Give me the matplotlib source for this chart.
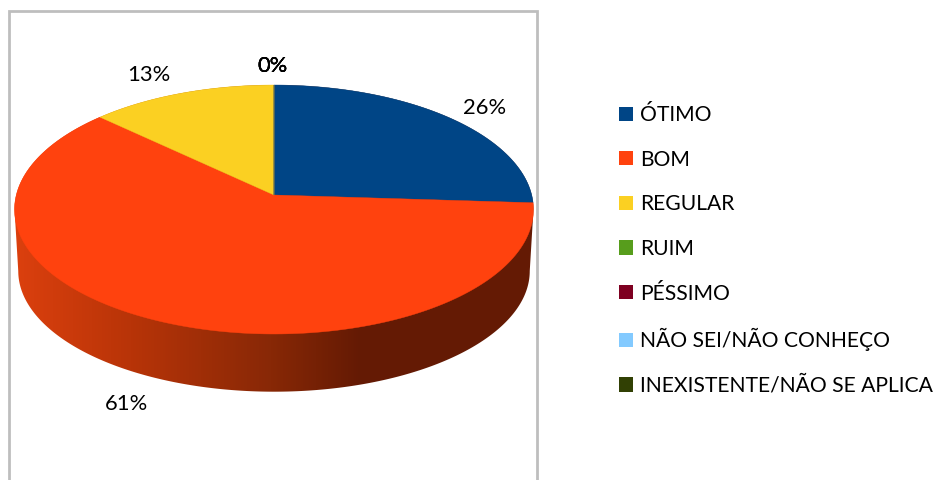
import numpy as np
import matplotlib
matplotlib.use("Agg")
import matplotlib.pyplot as plt
from matplotlib.patches import Patch, Polygon
from matplotlib.colors import to_rgb

plt.rcParams['font.family'] = ['Lato', 'DejaVu Sans']

categories = ["ÓTIMO", "BOM", "REGULAR", "RUIM", "PÉSSIMO",
              "NÃO SEI/NÃO CONHEÇO", "INEXISTENTE/NÃO SE APLICA"]
values = [26, 61, 13, 0, 0, 0, 0]
colors = ["#004586", "#FF420E", "#FBD022", "#579D1C", "#7E0021", "#83CAFF", "#314004"]

# pie is a disc seen in perspective, all in pixel coords of the picture
cx, cy = 274, 195
a, b, k = 257.7, 122.8, 0.1165
depth_a, depth_b, depth_y = 254.0, 119.0, 62


def disc(theta, a=a, b=b, y0=cy):
    # theta clockwise from the top
    u, v = np.sin(theta), np.cos(theta)
    w = 1 + k * v
    return cx + a * u / w, y0 - b * v / w


fig = plt.figure(figsize=(9.36, 4.8), dpi=100)
ax = fig.add_axes([0, 0, 1, 1])
ax.axis("off")

# frame, open at the bottom
ax.plot([9, 9, 536.5, 536.5], [482, 11, 11, 482], color="#BEBEBE", lw=2, solid_joinstyle="miter")

# side wall
top_t = np.linspace(-np.arccos(-k), np.arccos(-k), 300)
low_t = np.linspace(np.arccos(-k), 2 * np.pi - np.arccos(-k), 300)
wall = np.vstack([np.column_stack(disc(top_t)),
                  np.column_stack(disc(low_t, depth_a, depth_b, cy + depth_y))])
stops_x = [14, 130, 270, 360, 534]
stops_c = [to_rgb(c) for c in ["#DC400E", "#B83408", "#882806", "#641A04", "#641A04"]]
xs = np.arange(0, 936)
grad = np.stack([np.interp(xs, stops_x, [c[i] for c in stops_c]) for i in range(3)], axis=1)[None, :, :]
im = ax.imshow(grad, extent=[0, 936, 480, 0], aspect="auto", zorder=2)
im.set_clip_path(Polygon(wall, closed=True, transform=ax.transData))

# top face
start = 0.0
total = sum(values)
for val, col in zip(values, colors):
    sweep = 2 * np.pi * val / total
    th = np.linspace(start, start + sweep, 200)
    px, py = disc(th)
    ax.fill(np.r_[cx, px], np.r_[cy, py], color=col, lw=0.3, zorder=3)
    start += sweep

# data labels, the zero slices all land on top of each other
label_pos = [(485, 108.5), (127, 404.5), (149, 75), (273, 66.5), (273, 66.5), (273, 66.5), (273, 66.5)]
for val, (x, y) in zip(values, label_pos):
    ax.text(x, y, f"{val}%", ha="center", va="center", fontsize=15.8, color="black", zorder=5)

ax.set_xlim(0, 936)
ax.set_ylim(480, 0)

handles = [Patch(facecolor=c, edgecolor="none", label=n) for c, n in zip(colors, categories)]
ax.legend(handles=handles, loc="center left", bbox_to_anchor=(619 / 936, 1 - 250.5 / 480),
          frameon=False, fontsize=15.2, handlelength=0.66, handleheight=0.66,
          handletextpad=0.33, labelspacing=1.166, borderpad=0, borderaxespad=0)

fig.savefig("out.png", dpi=100)
